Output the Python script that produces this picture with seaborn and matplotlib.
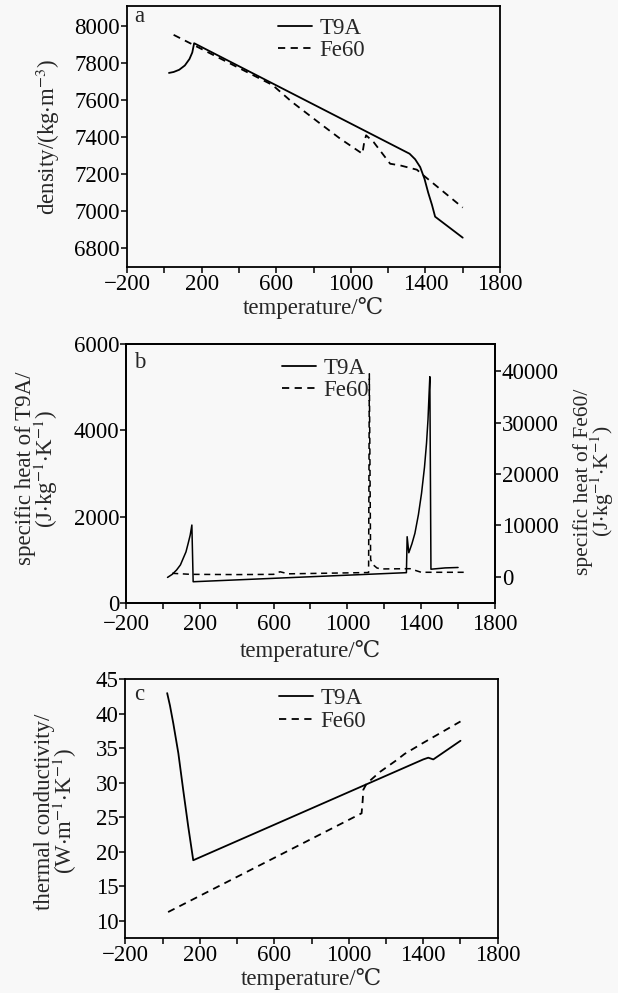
import seaborn as sns
import matplotlib.pyplot as plt
from matplotlib.lines import Line2D

# x axis (temperature)
X_TICKS = [-200, 0, 200, 400, 600, 800, 1000, 1200, 1400, 1600, 1800]
X_TICK_LABELS = ["\u2212200", "", "200", "", "600", "", "1000", "", "1400", "", "1800"]

# (a) density
T9A_TEMP_A = [25, 50, 80, 110, 135, 150, 160, 1315, 1345, 1372, 1395, 1415, 1435, 1452, 1600]
T9A_DENSITY = [7745, 7750, 7762, 7785, 7820, 7855, 7905, 7310, 7280, 7238, 7175, 7100, 7035, 6971, 6858]
FE60_TEMP_A = [50, 580, 684, 836, 943, 1062, 1072, 1082, 1122, 1211, 1265, 1354, 1390, 1600]
FE60_DENSITY = [7950, 7680, 7589, 7472, 7391, 7310, 7373, 7409, 7373, 7256, 7247, 7224, 7193, 7020]
DENSITY_TICKS = [6800, 7000, 7200, 7400, 7600, 7800, 8000]

# (b) specific heat
T9A_TEMP_B = [25, 50, 74, 95, 110, 125, 137, 148, 157, 164, 1320, 1324, 1333,
              1350, 1366, 1385, 1402, 1418, 1429, 1437, 1443, 1447, 1453, 1530, 1600]
T9A_CP = [600, 670, 771, 890, 1041, 1190, 1389, 1580, 1812, 500, 710, 1542, 1171,
          1380, 1620, 2050, 2546, 3150, 3704, 4250, 4861, 5245, 790, 820, 830]
FE60_TEMP_B = [50, 150, 400, 600, 635, 680, 1115, 1119, 1126, 1140, 1160, 1180, 1340, 1400, 1650]
FE60_CP = [650, 450, 400, 450, 950, 550, 800, 39500, 3300, 2300, 1700, 1500, 1550, 850, 850]
CP_LEFT_TICKS = [0, 2000, 4000, 6000]
CP_RIGHT_TICKS = [0, 10000, 20000, 30000, 40000]

# (c) thermal conductivity
T9A_TEMP_C = [25, 40, 58, 85, 111, 138, 165, 1400, 1427, 1454, 1600]
T9A_K = [43.0, 41.2, 38.6, 34.3, 29.0, 23.7, 18.8, 33.4, 33.65, 33.4, 36.1]
FE60_TEMP_C = [30, 1069, 1075, 1078, 1096, 1168, 1257, 1300, 1400, 1600]
FE60_K = [11.3, 25.6, 27.5, 29.0, 29.9, 31.6, 33.3, 34.2, 35.8, 38.9]
K_TICKS = [10, 15, 20, 25, 30, 35, 40, 45]

sns.set_style("ticks")
plt.rcParams["font.family"] = ["Liberation Serif", "DejaVu Serif"]
plt.rcParams["mathtext.fontset"] = "stix"
FS = 16.5
BG = "#f8f8f8"
LW = 1.3
DASH = (0, (4, 3))


def style_axis(ax):
    ax.set_facecolor(BG)
    ax.set_xlim(-200, 1800)
    ax.set_xticks(X_TICKS)
    ax.set_xticklabels(X_TICK_LABELS)
    ax.tick_params(direction="out", length=4, width=1.1, labelsize=FS, colors="black", pad=1)
    for s in ax.spines.values():
        s.set_linewidth(1.3)
        s.set_color("black")
    ax.set_xlabel("temperature/\u2103", fontsize=FS)
    ax.xaxis.set_label_coords(0.5, -0.115)


def add_legend(ax, x, y):
    handles = [Line2D([], [], color="black", lw=LW, label="T9A"),
               Line2D([], [], color="black", lw=LW, linestyle=DASH, label="Fe60")]
    ax.legend(handles=handles, loc="upper left", bbox_to_anchor=(x, y), frameon=False,
              fontsize=FS, handlelength=1.5, handletextpad=0.3, labelspacing=0.05,
              borderpad=0, borderaxespad=0)


fig = plt.figure(figsize=(6.18, 9.93), dpi=100, facecolor=BG)

# panel a
ax_a = fig.add_axes([0.2055, 0.7311, 0.6036, 0.2628])
sns.lineplot(x=T9A_TEMP_A, y=T9A_DENSITY, ax=ax_a, color="black", lw=LW, sort=False, estimator=None)
sns.lineplot(x=FE60_TEMP_A, y=FE60_DENSITY, ax=ax_a, color="black", lw=LW, linestyle=DASH,
             sort=False, estimator=None)
style_axis(ax_a)
ax_a.set_ylim(6700, 8105)
ax_a.set_yticks(DENSITY_TICKS)
ax_a.set_ylabel(r"density/(kg$\cdot$m$^{-3}$)", fontsize=FS)
ax_a.yaxis.set_label_coords(-0.175, 0.5)
ax_a.text(0.02, 0.94, "a", transform=ax_a.transAxes, fontsize=FS)
add_legend(ax_a, 0.405, 0.955)

# panel b
ax_b = fig.add_axes([0.2039, 0.3924, 0.597, 0.2611])
sns.lineplot(x=T9A_TEMP_B, y=T9A_CP, ax=ax_b, color="black", lw=1.1, sort=False, estimator=None)
style_axis(ax_b)
ax_b.tick_params(axis="x", pad=4)
ax_b.set_ylim(0, 6000)
ax_b.set_yticks(CP_LEFT_TICKS)
ax_b.set_ylabel("specific heat of T9A/\n" + r"(J$\cdot$kg$^{-1}$$\cdot$K$^{-1}$)", fontsize=FS, linespacing=0.8)
ax_b.yaxis.set_label_coords(-0.18, 0.52)
ax_b.xaxis.set_label_coords(0.5, -0.14)
ax_b.text(0.022, 0.907, "b", transform=ax_b.transAxes, fontsize=FS)

ax_b2 = ax_b.twinx()
sns.lineplot(x=FE60_TEMP_B, y=FE60_CP, ax=ax_b2, color="black", lw=1.1, linestyle=DASH,
             sort=False, estimator=None)
ax_b2.set_ylim(-5200, 45300)
ax_b2.set_yticks(CP_RIGHT_TICKS)
ax_b2.tick_params(direction="out", length=4, width=1.1, labelsize=FS, colors="black", pad=1)
ax_b2.set_ylabel("specific heat of Fe60/\n" + r"(J$\cdot$kg$^{-1}$$\cdot$K$^{-1}$)", fontsize=15.5, linespacing=0.8)
ax_b2.yaxis.set_label_coords(1.212, 0.47)
for s in ax_b2.spines.values():
    s.set_linewidth(1.3)
    s.set_color("black")
add_legend(ax_b2, 0.423, 0.946)

# panel c
ax_c = fig.add_axes([0.2027, 0.0551, 0.6027, 0.2608])
sns.lineplot(x=T9A_TEMP_C, y=T9A_K, ax=ax_c, color="black", lw=LW, sort=False, estimator=None)
sns.lineplot(x=FE60_TEMP_C, y=FE60_K, ax=ax_c, color="black", lw=LW, linestyle=DASH,
             sort=False, estimator=None)
style_axis(ax_c)
ax_c.set_ylim(7.5, 45)
ax_c.set_yticks(K_TICKS)
ax_c.set_ylabel("thermal conductivity/\n" + r"(W$\cdot$m$^{-1}$$\cdot$K$^{-1}$)", fontsize=FS, linespacing=0.8)
ax_c.yaxis.set_label_coords(-0.124, 0.49)
ax_c.text(0.023, 0.919, "c", transform=ax_c.transAxes, fontsize=FS)
add_legend(ax_c, 0.413, 0.965)

fig.savefig("out.png", dpi=100, facecolor=BG)
